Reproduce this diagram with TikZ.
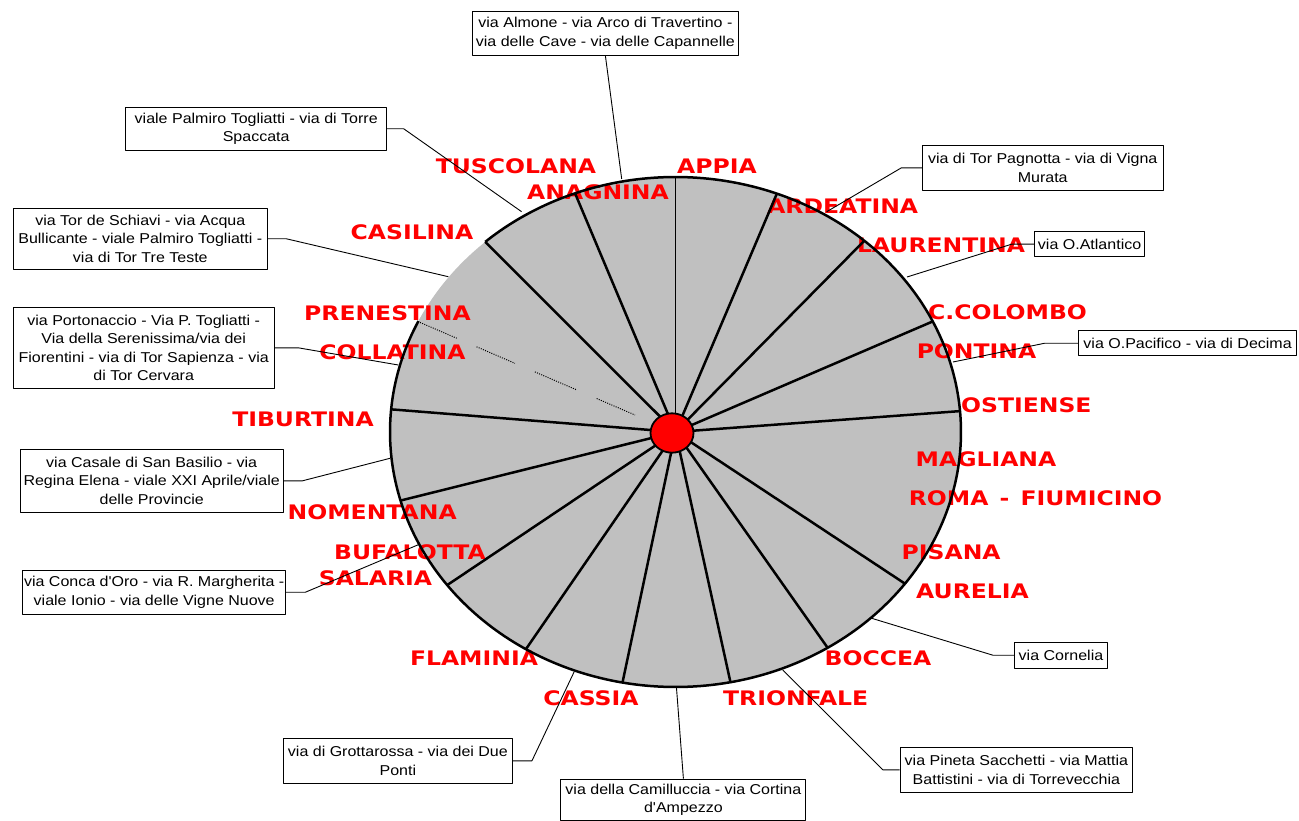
\documentclass[tikz,border=0pt]{standalone}
\usepackage{fontspec}
\newfontfamily\roadfont[FakeStretch=1.175]{DejaVu Sans}
\newfontfamily\streetfont[FakeStretch=1.12,Ligatures=TeXOff]{Liberation Sans}
\definecolor{piegray}{RGB}{192,192,192}
\usetikzlibrary{calc,shapes.geometric}

\begin{document}
\begin{tikzpicture}[x=1pt,y=-1pt,line join=round,
	road/.style={text=red,inner sep=0pt,font=\roadfont\bfseries\fontsize{20}{24}\selectfont},
	street/.style={draw=black,line width=0.9pt,inner sep=0pt,align=center,
		font=\streetfont\fontsize{14.3}{18.5}\selectfont},
	spoke/.style={line width=2.5pt},
	leader/.style={line width=0.9pt},
	dotline/.style={line width=1pt,dash pattern=on 1pt off 1.3pt}]
	\useasboundingbox (0,0) rectangle (1299,821);

	\coordinate (hub) at (675.5,432);
	\fill[piegray] (hub) ellipse [x radius=285.5pt, y radius=255pt];

	% consolari
	\node[road] (appia) at (717,166) {APPIA};
	\node[road] (tuscolana) at (516,166) {TUSCOLANA};
	\node[road] (anagnina) at (598,192.5) {ANAGNINA};
	\node[road] (ardeatina) at (842.7,205.8) {ARDEATINA};
	\node[road] (casilina) at (412,232.5) {CASILINA};
	\node[road] (laurentina) at (941,245.8) {LAURENTINA};
	\node[road] (colombo) at (1007.5,312.5) {C.COLOMBO};
	\node[road] (prenestina) at (387.5,313) {PRENESTINA};
	\node[road] (pontina) at (976.5,351) {PONTINA};
	\node[road] (collatina) at (392.5,352.5) {COLLATINA};
	\node[road] (ostiense) at (1026.3,404.8) {OSTIENSE};
	\node[road] (tiburtina) at (303,419.2) {TIBURTINA};
	\node[road] (magliana) at (986,458.8) {MAGLIANA};
	\node[road] (fiumicino) at (1035.5,498.5) {ROMA\hspace{3pt} - \hspace{3pt}FIUMICINO};
	\node[road] (nomentana) at (372.2,512) {NOMENTANA};
	\node[road] (pisana) at (951.2,552.5) {PISANA};
	\node[road] (bufalotta) at (410,552.5) {BUFALOTTA};
	\node[road] (salaria) at (375.5,578.5) {SALARIA};
	\node[road] (aurelia) at (972.5,591.5) {AURELIA};
	\node[road] (flaminia) at (474,658) {FLAMINIA};
	\node[road] (boccea) at (878,658.7) {BOCCEA};
	\node[road] (cassia) at (591,698.3) {CASSIA};
	\node[road] (trionfale) at (795.7,698.3) {TRIONFALE};

	% raggi
	\foreach \t [count=\i] in {69.2,48.6,25.7,4.7,-36.5,-57.8,-78.9,-100.7,-121.6,-143.1,-164.4,174.9,131.8,110.6}{
		\coordinate (rim\i) at ({675.5+285.5*cos(\t)},{432-255*sin(\t)});
		\draw[spoke] (hub) -- (rim\i);
	}
	\coordinate (rimtop) at (675.5,177);
	\draw[line width=1.1pt] (hub) -- (rimtop);
	\draw[line width=2.5pt] plot[domain=154.2:491.8,samples=300] ({675.5+285.5*cos(\x)},{432-255*sin(\x)});
	\coordinate (dp) at (418.3,321.7);
	\coordinate (dq) at (635,415);
	\foreach \a/\b in {0.008/0.177,0.269/0.446,0.538/0.731,0.823/1.0}
		\draw[dotline] ($(dp)!\a!(dq)$) -- ($(dp)!\b!(dq)$);

	% riquadri
	\node[street,minimum width=265.3pt,minimum height=44.3pt] (almone) at (605.4,33.2)
		{via Almone - via Arco di Travertino -\\via delle Cave - via delle Capannelle};
	\node[street,minimum width=261pt,minimum height=43pt] (spaccata) at (256.2,128.8)
		{viale Palmiro Togliatti - via di Torre\\Spaccata};
	\node[street,minimum width=254pt,minimum height=61pt] (treteste) at (140.3,238.8)
		{via Tor de Schiavi - via Acqua\\Bullicante - viale Palmiro Togliatti -\\via di Tor Tre Teste};
	\node[street,minimum width=260.7pt,minimum height=81pt] (cervara) at (143.7,347.8)
		{via Portonaccio - Via P. Togliatti -\\Via della Serenissima/via dei\\Fiorentini - via di Tor Sapienza - via\\di Tor Cervara};
	\node[street,minimum width=263.3pt,minimum height=63pt] (basilio) at (151.7,480.8)
		{via Casale di San Basilio - via\\Regina Elena - viale XXI Aprile/viale\\delle Provincie};
	\node[street,minimum width=263pt,minimum height=44.3pt] (vigne) at (154.2,592.2)
		{via Conca d'Oro - via R. Margherita -\\viale Ionio - via delle Vigne Nuove};
	\node[street,minimum width=229pt,minimum height=45pt] (grottarossa) at (397.9,760.8)
		{via di Grottarossa - via dei Due\\Ponti};
	\node[street,minimum width=245pt,minimum height=41.5pt] (camilluccia) at (683.4,799.8)
		{via della Camilluccia - via Cortina\\d'Ampezzo};
	\node[street,minimum width=232.7pt,minimum height=45pt] (pineta) at (1016.4,769.8)
		{via Pineta Sacchetti - via Mattia\\Battistini - via di Torrevecchia};
	\node[street,minimum width=93.4pt,minimum height=25.7pt] (cornelia) at (1061,655.2)
		{via Cornelia};
	\node[street,minimum width=218.6pt,minimum height=25pt] (pacifico) at (1187.6,343.2)
		{via O.Pacifico - via di Decima};
	\node[street,minimum width=109.7pt,minimum height=25pt] (atlantico) at (1089.6,244.2)
		{via O.Atlantico};
	\node[street,minimum width=240.8pt,minimum height=44.3pt] (pagnotta) at (1042.7,167.9)
		{via di Tor Pagnotta - via di Vigna\\Murata};

	% agganci sul bordo
	\coordinate (ralmone) at (621.7,179);
	\coordinate (rspaccata) at (521.6,211.7);
	\coordinate (rtreteste) at (448.3,276.7);
	\coordinate (rcervara) at (398.3,365);
	\coordinate (rbasilio) at (390,458.3);
	\coordinate (rvigne) at (420,544);
	\coordinate (rgrotta) at (574.2,671.7);
	\coordinate (rcamill) at (676.4,686.7);
	\coordinate (rpineta) at (782.8,670);
	\coordinate (rcornelia) at (871.7,618.3);
	\coordinate (rpacifico) at (953,362);
	\coordinate (ratlantico) at (907,277);
	\coordinate (rpagnotta) at (826.7,211.7);

	\draw[leader] (almone.south) -- (ralmone);
	\draw[leader] (spaccata.east) -- ++(16.6,0) -- (rspaccata);
	\draw[leader] (treteste.east) -- ++(18.7,0) -- (rtreteste);
	\draw[leader] (cervara.east) -- ++(23.7,0) -- (rcervara);
	\draw[leader] (basilio.east) -- ++(18.7,0) -- (rbasilio);
	\draw[leader] (vigne.east) -- ++(19.3,0) -- (rvigne);
	\draw[leader] (grottarossa.east) -- ++(19.1,0) -- (rgrotta);
	\draw[leader] (camilluccia.north) -- (rcamill);
	\draw[leader] (pineta.west) -- ++(-16.7,0) -- (rpineta);
	\draw[leader] (cornelia.west) -- ++(-21,0) -- (rcornelia);
	\draw[leader] (pacifico.west) -- ++(-33,0) -- (rpacifico);
	\draw[leader] (atlantico.west) -- ++(-22.7,0) -- (ratlantico);
	\draw[leader] (pagnotta.west) -- ++(-20.6,0) -- (rpagnotta);

	\node[draw=black,fill=red,line width=1.8pt,ellipse,minimum width=43pt,minimum height=39.4pt,inner sep=0pt] (centro) at (672,433) {};
\end{tikzpicture}
\end{document}
